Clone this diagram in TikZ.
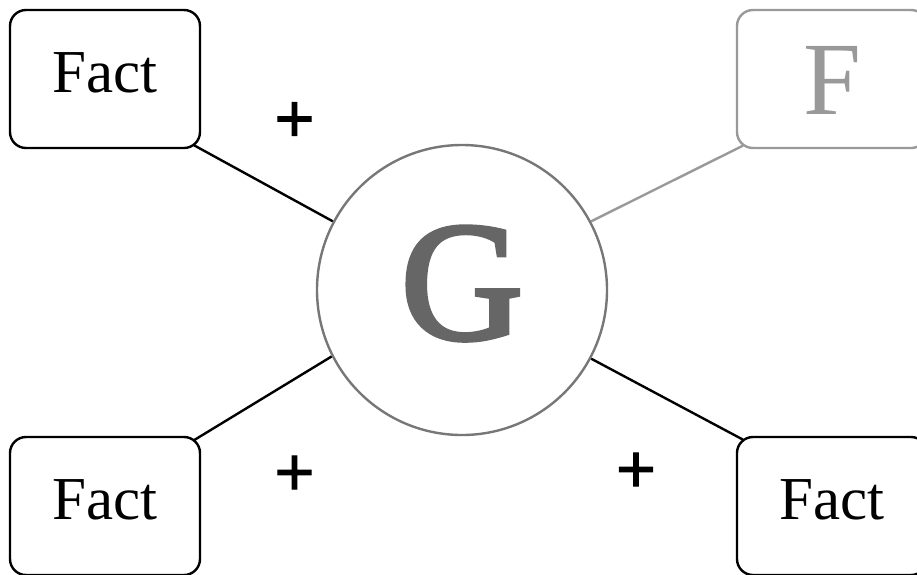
\documentclass[tikz,border=0pt]{standalone}
\usepackage{fontspec}
\setmainfont{Liberation Serif}
\newfontfamily\plusfont[FakeBold=1.5]{Liberation Sans}
\newfontfamily\gfont[FakeBold=2.5]{Liberation Serif}
\definecolor{gtext}{HTML}{666666}
\definecolor{gring}{HTML}{777777}
\definecolor{fgray}{HTML}{999999}
\pgfdeclarelayer{bg}
\pgfsetlayers{bg,main}
\tikzset{
  factbox/.style={draw=black, line width=2.4pt, fill=white, rounded corners=16pt,
    minimum width=190pt, minimum height=138pt, inner sep=0pt,
    font=\fontsize{61}{61}\selectfont, text height=40pt, text depth=14pt},
  fbox/.style={draw=fgray, line width=2.4pt, fill=white, rounded corners=16pt,
    minimum width=190pt, minimum height=138pt, inner sep=0pt, text=fgray,
    font=\fontsize{104}{104}\selectfont, text height=70pt, text depth=0pt},
  gcircle/.style={circle, draw=gring, line width=2.4pt, fill=white,
    minimum size=290pt, inner sep=0pt, text=gtext,
    font=\gfont\fontsize{170}{170}\selectfont, text height=116pt, text depth=18pt},
  conn/.style={line width=2.4pt, draw=black, shorten >=-8pt},
  fconn/.style={line width=2.4pt, draw=fgray, shorten >=-8pt},
  plussign/.style={font=\plusfont\fontsize{68}{68}\selectfont, inner sep=0pt}
}
\begin{document}
\begin{tikzpicture}[x=1pt, y=-1pt]
\useasboundingbox (0,0) rectangle (917,574);
\node[gcircle] (g) at (462,290) {G};
\node[factbox] (tl) at (105,79) {Fact\hspace{9pt}};
\node[fbox] (tr) at (832,79) {F};
\node[factbox] (bl) at (105,506) {Fact\hspace{9pt}};
\node[factbox] (br) at (832,506) {Fact\hspace{9pt}};
\begin{pgfonlayer}{bg}
\draw[conn] (g.152) -- (tl.south east);
\draw[fconn] (g.28) -- (tr.south west);
\draw[conn] (g.207) -- (bl.north east);
\draw[conn] (g.-28) -- (br.north west);
\end{pgfonlayer}
\node[plussign] (p1) at (294.5,122) {+};
\node[plussign] (p2) at (294.5,475.5) {+};
\node[plussign] (p3) at (636,472.5) {+};
\end{tikzpicture}
\end{document}
